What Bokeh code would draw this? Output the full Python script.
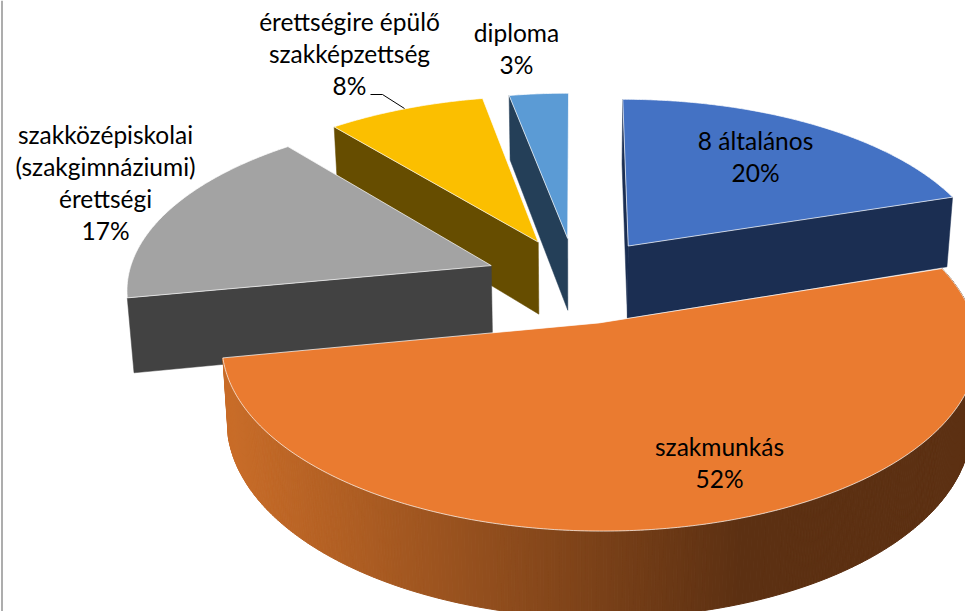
import numpy as np
from bokeh.plotting import figure
from bokeh.models import Range1d, ColumnDataSource
from bokeh.core.properties import value
from bokeh.embed import file_html
from bokeh.resources import INLINE

categories = ["8 általános", "szakmunkás", "szakközépiskolai\n(szakgimnáziumi)\nérettségi",
              "érettségire épülő\nszakképzettség", "diploma"]
shares = [20, 52, 17, 8, 3]
top_colors = ["#4472C4", "#EA7B30", "#A3A3A3", "#FBBF00", "#5B9BD5"]
side_colors = ["#1B2E52", "#5C3012", "#424242", "#664D00", "#243F58"]
label_anchor = [(755, 139.5), (719, 445.5), (105, 133.5), (349, 20.5), (516, 31.5)]
paint_order = [4, 3, 2, 0, 1]
visible_faces = {0: (0, -1), 1: (), 2: (0,), 3: (0,), 4: (0,)}

# projection of the pie disc to the page
CX, CY, RX, RY, PERSP, EXPLODE, DEPTH, TAPER = 575.5, 279.5, 364, 172, 0.12, 0.25, 74, 0.985
LINE_STEP = 32
W, H = 965, 611


def project(u, v):
    s = 1 / (1 - PERSP * v)
    return CX + RX * u * s, CY + RY * v * s, s


def lower(x, y, s):
    return CX + (x - CX) * TAPER, y + DEPTH * s


def slice_points(a0, a1):
    mid = np.radians((a0 + a1) / 2)
    ou, ov = EXPLODE * np.sin(mid), -EXPLODE * np.cos(mid)
    ang = np.radians(np.linspace(a0, a1, max(int(a1 - a0) * 2, 8)))
    ax, ay, asc = project(ou, ov)
    x, y, s = project(ou + np.sin(ang), ov - np.cos(ang))
    return (ax, ay, asc), x, y, s


p = figure(width=W, height=H, output_backend="svg", toolbar_location=None,
           x_range=Range1d(0, W), y_range=Range1d(H, 0),
           x_axis_type=None, y_axis_type=None, min_border=0, outline_line_color=None)
p.grid.visible = False

edges = np.concatenate([[0], np.cumsum(shares)]) * 360 / sum(shares)


def wall_colour(x):
    t = np.clip((x - 230) / (740 - 230), 0, 1)
    c0, c1 = np.array([0xC8, 0x6C, 0x28]), np.array([0x5C, 0x30, 0x12])
    c = c0 + (c1 - c0) * t
    return "#%02x%02x%02x" % tuple(int(round(k)) for k in c)


for i in paint_order:
    (ax, ay, asc), x, y, s = slice_points(edges[i], edges[i + 1])
    bx, by = lower(x, y, s)
    abx, aby = lower(ax, ay, asc)
    # outer wall, only on the orange slice can it be seen
    if i == 1:
        xs, ys, cols = [], [], []
        for k in range(len(x) - 1):
            xs.append([x[k], x[k + 1], bx[k + 1], bx[k]])
            ys.append([y[k], y[k + 1], by[k + 1], by[k]])
            cols.append(wall_colour((x[k] + x[k + 1]) / 2))
        p.patches(xs, ys, fill_color=cols, line_color=cols, line_width=1)
    # radial faces
    for k in visible_faces[i]:
        p.patch([ax, x[k], bx[k], abx], [ay, y[k], by[k], aby],
                fill_color=side_colors[i], line_color=side_colors[i], line_width=0.5)
    # top
    p.patch(np.r_[ax, x], np.r_[ay, y], fill_color=top_colors[i],
            line_color="#ffffff", line_alpha=0.7, line_width=1)

# leader line of the 8% label
p.line([370, 382, 404], [94, 94, 108], line_color="#000000", line_width=1)
# left frame of the chart area
p.line([1.5, 1.5], [0, H], line_color="#ADADAD", line_width=2)

lx, ly, lt = [], [], []
for cat, share, (cx, cy) in zip(categories, shares, label_anchor):
    for n, line in enumerate(cat.split("\n") + [f"{share}%"]):
        lx.append(cx)
        ly.append(cy + n * LINE_STEP)
        lt.append(line)
p.text(x="x", y="y", text="t", source=ColumnDataSource(dict(x=lx, y=ly, t=lt)),
       text_font=value("Lato"), text_font_size="24.5px", text_color="#000000",
       text_align="center", text_baseline="middle")

open("out.html", "w").write(file_html(p, INLINE))
